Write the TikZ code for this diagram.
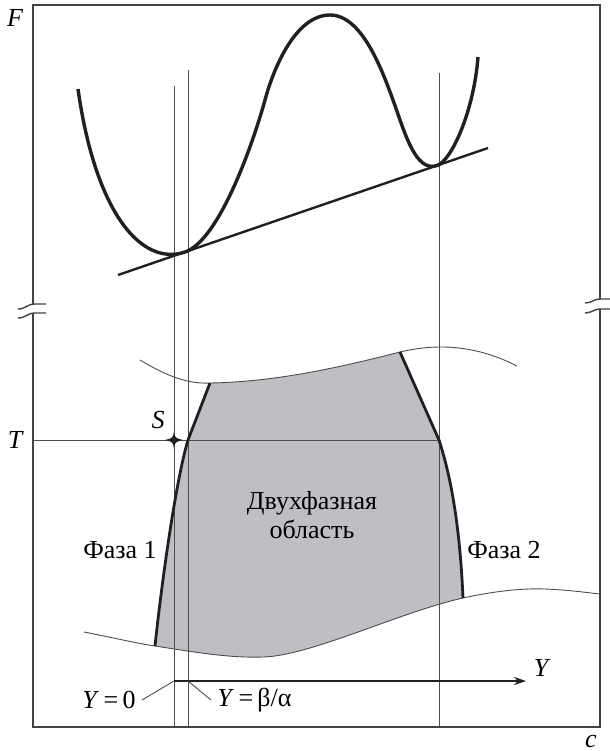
\documentclass[tikz,border=0pt]{standalone}
\usepackage{fontspec}
\setmainfont{Liberation Serif}
\usepackage{xcolor}
\usetikzlibrary{arrows.meta}
\definecolor{cinzaregiao}{RGB}{190,191,195}
\definecolor{traco}{RGB}{35,31,32}
\tikzset{
    moldura/.style={draw=traco!85, line width=0.7pt},
    fina/.style={draw=traco!80, line width=0.45pt},
    curva/.style={draw=traco, line width=1.7pt},
    fronteira/.style={draw=traco, line width=1.4pt},
    rotulo/.style={font=\fontsize{13}{14.5}\selectfont, inner sep=0pt},
    letra/.style={rotulo, font=\fontsize{13}{14.5}\selectfont\itshape}
}

\begin{document}
\begin{tikzpicture}[x=0.5pt, y=-0.5pt]
    \useasboundingbox (0,0) rectangle (610,751);
    \fill[cinzaregiao] (210,383) .. controls (270,382) and (330,370) .. (400,352)
        -- (439,440) .. controls (452,480) and (460,530) .. (463,598)
        .. controls (400,612) and (310,656) .. (263,657)
        .. controls (230,658) and (200,653) .. (155,646)
        .. controls (162,580) and (176,480) .. (188,440) -- cycle;
    \draw[moldura] (33,304) -- (33,5) -- (600,5) -- (600,299);
    \draw[moldura] (33,313) -- (33,727) -- (600,727) -- (600,309);
    \draw[moldura] (18,309) .. controls (26,309) and (27,304) .. (35,304) -- (46,304);
    \draw[moldura] (18,318) .. controls (26,318) and (27,313) .. (35,313) -- (46,313);
    \draw[moldura] (585,303) .. controls (592,303) and (593,299) .. (601,299) -- (610,299);
    \draw[moldura] (585,313) .. controls (592,313) and (593,309) .. (601,309) -- (610,309);
    \draw[fina] (174,86) -- (174,727);
    \draw[fina] (188,70) -- (188,727);
    \draw[fina] (439,73) -- (439,727);
    \draw[fina] (33,440) -- (439,440);
    \draw[curva] (78,89) .. controls (95,210) and (140,267) .. (185,252)
        .. controls (220,240) and (254,140) .. (265,100)
        .. controls (273,70) and (295,15) .. (330,15)
        .. controls (362,15) and (382,70) .. (393,100)
        .. controls (404,130) and (415,173) .. (437,165.5)
        .. controls (452,160.4) and (474,110) .. (478,57);
    \draw[draw=traco, line width=1.2pt] (118,275) -- (488,148);
    \draw[fina] (140,360) .. controls (170,378) and (190,384) .. (210,383)
        .. controls (270,382) and (330,370) .. (400,352)
        .. controls (430,345) and (470,342) .. (517,366);
    \draw[fina] (84,632) .. controls (110,637) and (135,643) .. (155,646)
        .. controls (200,653) and (230,658) .. (263,657)
        .. controls (310,656) and (400,612) .. (463,598)
        .. controls (490,592) and (520,588) .. (545,589)
        .. controls (570,590) and (590,593) .. (600,594);
    \draw[fronteira] (210,383) -- (188,440) .. controls (176,480) and (162,580) .. (155,646);
    \draw[fronteira] (400,352) -- (439,440) .. controls (452,480) and (460,530) .. (463,598);
    \coordinate (pontoS) at (174,440);
    \fill[traco] (174,431) .. controls (175,438) .. (183,440) .. controls (175,442) .. (174,449)
        .. controls (173,442) .. (165,440) .. controls (173,438) .. cycle;
    \coordinate (origem) at (174,681);
    \coordinate (beta) at (188,681);
    \coordinate (seta) at (526,681);
    \draw[draw=traco, line width=0.6pt, -{Stealth[length=6pt, width=4pt]}] (origem) -- (seta);
    \node[letra] (rotF) at (15,18) {F};
    \node[letra] (rotT) at (15,440) {T};
    \node[letra] (rotS) at (158,420) {S};
    \node[letra] (rotY) at (541,668) {Y};
    \node[letra] (rotc) at (591,741) {c};
    \node[rotulo, align=center] (regiao) at (312,515) {Двухфазная\\область};
    \node[rotulo] (fase1) at (120,550) {Фаза 1};
    \node[rotulo] (fase2) at (504,550) {Фаза 2};
    \node[rotulo, inner sep=3pt, anchor=east] (yzero) at (142,700) {\textit{Y}\,=\,0};
    \node[rotulo, inner sep=3pt, anchor=west] (ybeta) at (211,700) {\textit{Y}\,=\,β/α};
    \draw[fina] (yzero.east) -- (origem);
    \draw[fina] (beta) -- (ybeta.west);
\end{tikzpicture}
\end{document}
